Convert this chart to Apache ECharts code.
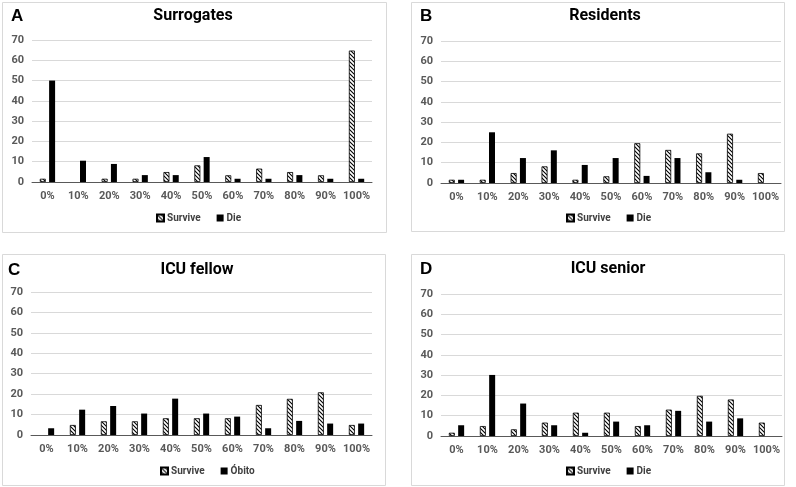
<!DOCTYPE html>
<html><head><meta charset="utf-8">
<script src="https://cdn.jsdelivr.net/npm/echarts@6/dist/echarts.min.js"></script>
<style>html,body{margin:0;padding:0;background:#fff}#c{width:796px;height:487px}</style>
</head><body><div id="c"></div>
<script>
const categories = ['0%','10%','20%','30%','40%','50%','60%','70%','80%','90%','100%'];
const yTicks = [0,10,20,30,40,50,60,70];

const surrogatesSurvive = [1.6,0,1.6,1.6,4.9,8.2,3.3,6.6,4.9,3.3,64.8];
const surrogatesDie     = [50,10.5,8.9,3.4,3.4,12.3,1.6,1.6,3.4,1.6,1.6];
const residentsSurvive  = [1.6,1.6,4.9,8.2,1.6,3.3,19.6,16.3,14.6,24.3,4.9];
const residentsDie      = [1.6,25,12.3,16.1,8.9,12.3,3.5,12.3,5.3,1.6,0];
const fellowSurvive     = [0,4.9,6.7,6.7,8.2,8.2,8.2,14.7,17.7,20.9,4.9];
const fellowObito       = [3.3,12.4,14.2,10.5,17.8,10.5,9.0,3.3,6.9,5.6,5.6];
const seniorSurvive     = [1.6,4.9,3.3,6.6,11.5,11.5,4.9,13.0,19.8,18.0,6.6];
const seniorDie         = [5.3,30.1,16,5.3,1.6,7.1,5.3,12.4,7.1,8.7,0];

const panels = [
  {letter:'A', title:'Surrogates', survive:surrogatesSurvive, die:surrogatesDie, dieName:'Die'},
  {letter:'B', title:'Residents', survive:residentsSurvive, die:residentsDie, dieName:'Die'},
  {letter:'C', title:'ICU fellow', survive:fellowSurvive, die:fellowObito, dieName:'Óbito'},
  {letter:'D', title:'ICU senior', survive:seniorSurvive, die:seniorDie, dieName:'Die'}
];

// layout
const grids = [
  {left:32, top:40, width:340, height:142},
  {left:441, top:41, width:340, height:142},
  {left:31, top:292, width:341, height:143},
  {left:441, top:294, width:341, height:142}
];
const boxes = [
  {x:2, y:2, w:384, h:230},
  {x:411, y:2, w:373, h:229},
  {x:2, y:254, w:383, h:231},
  {x:411, y:254, w:373, h:231}
];
const titlePos = [[193,16],[605,16],[197,270],[608,269]];
const letterPos = [[11,16],[420,16],[8,270],[420,269]];
const legendPos = [[156,213],[566,213],[160,466],[566,466]];

// hatch pattern
const pc = document.createElement('canvas');
pc.width = 4; pc.height = 4;
const g = pc.getContext('2d');
g.fillStyle = '#fff'; g.fillRect(0,0,4,4);
g.strokeStyle = '#000'; g.lineWidth = 1.1;
g.beginPath();
g.moveTo(-1,-1); g.lineTo(5,5);
g.moveTo(-1,3); g.lineTo(1,5);
g.moveTo(3,-1); g.lineTo(5,1);
g.stroke();
const hatch = {image: pc, repeat: 'repeat'};

const FONT = "Roboto,'Liberation Sans',sans-serif";
const nz = arr => arr.map(v => v === 0 ? null : v);

const option = {
  animation:false,
  backgroundColor:'#fff',
  textStyle:{fontFamily:FONT},
  grid:[], xAxis:[], yAxis:[], series:[], legend:[], graphic:[]
};

panels.forEach((p,i)=>{
  option.grid.push(Object.assign({containLabel:false}, grids[i]));
  option.xAxis.push({
    type:'category', gridIndex:i, data:categories,
    axisLine:{lineStyle:{color:'#595959',width:1}},
    axisTick:{show:false},
    axisLabel:{interval:0, color:'#595959', fontWeight:'bold', fontSize:11, fontFamily:FONT, margin:9}
  });
  option.yAxis.push({
    type:'value', gridIndex:i, min:yTicks[0], max:yTicks[yTicks.length-1], interval:10,
    axisLine:{show:false}, axisTick:{show:false},
    splitLine:{lineStyle:{color:'#d9d9d9',width:1}},
    axisLabel:{color:'#595959', fontWeight:'bold', fontSize:11, fontFamily:FONT, margin:8}
  });
  option.series.push({
    name:'Survive', type:'bar', xAxisIndex:i, yAxisIndex:i, data:nz(p.survive),
    barWidth:6, barGap:'55%',
    itemStyle:{color:hatch, borderColor:'#000', borderWidth:0.8}
  });
  option.series.push({
    name:p.dieName, type:'bar', xAxisIndex:i, yAxisIndex:i, data:nz(p.die),
    barWidth:6, barGap:'55%',
    itemStyle:{color:'#000'}
  });
  option.legend.push({
    data:['Survive', p.dieName],
    left:legendPos[i][0], top:legendPos[i][1], padding:0,
    itemWidth:7, itemHeight:7, itemGap:16,
    icon:'rect',
    textStyle:{color:'#404040', fontWeight:'bold', fontSize:10, fontFamily:FONT, padding:[0,0,0,-2]}
  });
  option.graphic.push({
    type:'rect', shape:{x:boxes[i].x+0.5, y:boxes[i].y+0.5, width:boxes[i].w, height:boxes[i].h},
    style:{fill:'none', stroke:'#d9d9d9', lineWidth:1}, z:-10
  });
  option.graphic.push({
    type:'text', x:titlePos[i][0], y:titlePos[i][1],
    style:{text:p.title, fill:'#000', font:"bold 16px "+FONT, textAlign:'center', textVerticalAlign:'middle'}
  });
  option.graphic.push({
    type:'text', x:letterPos[i][0], y:letterPos[i][1],
    style:{text:p.letter, fill:'#000', font:"bold 17px 'Liberation Sans',Arial,sans-serif", textAlign:'left', textVerticalAlign:'middle'}
  });
});

const chart = echarts.init(document.getElementById('c'), null, {renderer:'canvas'});
chart.setOption(option);
</script></body></html>
